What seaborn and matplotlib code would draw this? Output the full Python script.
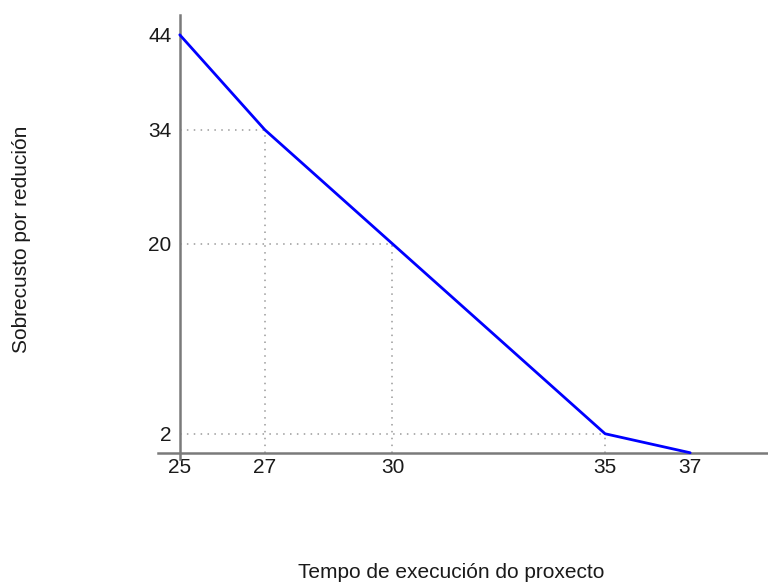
import matplotlib
matplotlib.use("Agg")
import matplotlib.pyplot as plt
import seaborn as sns
import pandas as pd

# Data
tempo = [25, 27, 30, 35, 37]
sobrecusto = [44, 34, 22, 2, 0]
x_ticks = [25, 27, 30, 35, 37]
x_tick_labels = ["25", "27", "30", "35", "37"]
y_ticks = [44, 34, 22, 2]
y_tick_labels = ["44", "34", "20", "2"]
guide_x = [27, 30, 35]
guide_y = [34, 22, 2]

sns.set_style("white")
plt.rcParams["font.family"] = ["Liberation Sans", "DejaVu Sans"]

fig = plt.figure(figsize=(7.68, 5.83), dpi=100)
ax = fig.add_axes([0.2053, 0.212, 0.7947, 0.762])

df = pd.DataFrame({"Tempo": tempo, "Sobrecusto": sobrecusto})

# dotted guide lines
for gx, gy in zip(guide_x, guide_y):
    ax.plot([25, gx], [gy, gy], linestyle=(0, (1, 3.5)), color="#9a9a9a", linewidth=1.1, zorder=1)
    ax.plot([gx, gx], [0, gy], linestyle=(0, (1, 3.5)), color="#9a9a9a", linewidth=1.1, zorder=1)

sns.lineplot(data=df, x="Tempo", y="Sobrecusto", ax=ax, color="#0000ff", linewidth=2, zorder=3)

ax.set_xlim(24.48, 38.83)
ax.set_ylim(-0.7, 46.07)

for s in ["top", "right"]:
    ax.spines[s].set_visible(False)
ax.spines["left"].set_position(("data", 25))
ax.spines["bottom"].set_position(("data", 0))
for s in ["left", "bottom"]:
    ax.spines[s].set_color("#7a7a7a")
    ax.spines[s].set_linewidth(1.8)

ax.set_xticks(x_ticks)
ax.set_xticklabels(x_tick_labels)
ax.set_yticks(y_ticks)
ax.set_yticklabels(y_tick_labels)
ax.tick_params(axis="x", length=0, pad=3.5, labelsize=15, colors="#1a1a1a")
ax.tick_params(axis="y", length=0, pad=6.0, labelsize=15, colors="#1a1a1a")
ax.set_xlabel("")
ax.set_ylabel("")

fig.text(298 / 768, 1 - 578 / 583, "Tempo de execución do proxecto", ha="left", va="baseline",
         fontsize=15, color="#1a1a1a")
fig.text(21.5 / 768, 1 - 239 / 583, "Sobrecusto por redución", ha="center", va="center",
         rotation=90, fontsize=15, color="#1a1a1a")

fig.savefig("out.png", dpi=100)
